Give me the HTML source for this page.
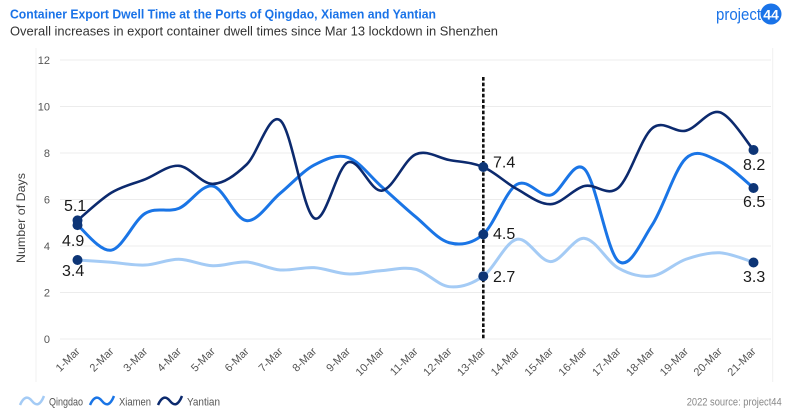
<!DOCTYPE html>
<html>
<head>
<meta charset="utf-8">
<style>
  html,body{margin:0;padding:0;background:#fff;}
  svg{display:block;font-family:"Liberation Sans",Arial,sans-serif;}
</style>
</head>
<body>
<svg id="chart" width="800" height="415" viewBox="0 0 800 415" xmlns="http://www.w3.org/2000/svg">
  <rect x="0" y="0" width="800" height="415" fill="#fff"/>
  <!-- Title -->
  <text x="10" y="18.5" font-size="13" font-weight="bold" fill="#1a73e8" textLength="426" lengthAdjust="spacingAndGlyphs">Container Export Dwell Time at the Ports of Qingdao, Xiamen and Yantian</text>
  <text x="10" y="35.3" font-size="13" fill="#333" textLength="488" lengthAdjust="spacingAndGlyphs">Overall increases in export container dwell times since Mar 13 lockdown in Shenzhen</text>
  <!-- Logo -->
  <text x="716" y="20" font-size="17" fill="#1a73e8" textLength="45" lengthAdjust="spacingAndGlyphs">project</text>
  <circle cx="771" cy="14" r="10.5" fill="#1a73e8"/>
  <text x="771" y="19.5" font-size="14" font-weight="bold" fill="#fff" text-anchor="middle">44</text>

  <!-- frame lines -->
  <line x1="36" y1="48" x2="36" y2="382" stroke="#f0f0f0" stroke-width="1"/>
  <line x1="772.7" y1="48" x2="772.7" y2="382" stroke="#f0f0f0" stroke-width="1"/>

  <!-- grid -->
  <g stroke="#ececec" stroke-width="1">
    <line x1="60" y1="60" x2="771" y2="60"/>
    <line x1="60" y1="106.5" x2="771" y2="106.5"/>
    <line x1="60" y1="153" x2="771" y2="153"/>
    <line x1="60" y1="199.5" x2="771" y2="199.5"/>
    <line x1="60" y1="246" x2="771" y2="246"/>
    <line x1="60" y1="292.5" x2="771" y2="292.5"/>
    <line x1="60" y1="339" x2="771" y2="339"/>
  </g>
  <!-- y tick labels -->
  <g font-size="11" fill="#555" text-anchor="end">
    <text x="50" y="64">12</text>
    <text x="50" y="110.5">10</text>
    <text x="50" y="157">8</text>
    <text x="50" y="203.5">6</text>
    <text x="50" y="250">4</text>
    <text x="50" y="296.5">2</text>
    <text x="50" y="343">0</text>
  </g>
  <text transform="translate(25,218) rotate(-90)" font-size="12" fill="#444" text-anchor="middle" textLength="90" lengthAdjust="spacingAndGlyphs">Number of Days</text>

  <!-- x labels -->
  <g id="xlabels" font-size="11" fill="#555" text-anchor="end"></g>

  <!-- dashed marker -->
  <line x1="483.3" y1="77" x2="483.3" y2="340" stroke="#111" stroke-width="2.6" stroke-dasharray="3.6 2"/>

  <!-- series -->
  <path id="q" fill="none" stroke="#a4cbf5" stroke-width="3" stroke-linejoin="round" stroke-linecap="round"/>
  <path id="x" fill="none" stroke="#1a75e6" stroke-width="3" stroke-linejoin="round" stroke-linecap="round"/>
  <path id="y" fill="none" stroke="#0c2a6e" stroke-width="2.6" stroke-linejoin="round" stroke-linecap="round"/>

  <!-- dots -->
  <g fill="#0d3576">
    <circle cx="77.5" cy="220.4" r="5"/>
    <circle cx="77.5" cy="225.1" r="5"/>
    <circle cx="77.5" cy="260" r="5"/>
    <circle cx="483.3" cy="167" r="5"/>
    <circle cx="483.3" cy="234.4" r="5"/>
    <circle cx="483.3" cy="276.2" r="5"/>
    <circle cx="753.5" cy="150" r="5"/>
    <circle cx="753.5" cy="188" r="5"/>
    <circle cx="753.5" cy="262.5" r="5"/>
  </g>
  <!-- value labels -->
  <g font-size="16" fill="#1a1a1a">
    <text x="64" y="211">5.1</text>
    <text x="62" y="246">4.9</text>
    <text x="62" y="276">3.4</text>
    <text x="493" y="167.5">7.4</text>
    <text x="493" y="239">4.5</text>
    <text x="493" y="282">2.7</text>
    <text x="743" y="170">8.2</text>
    <text x="743" y="207">6.5</text>
    <text x="743" y="282">3.3</text>
  </g>

  <!-- legend -->
  <path d="M20,405 C24,396 28,396 32,401 S40,406 44,396" fill="none" stroke="#a4cbf5" stroke-width="2.5"/>
  <text x="49" y="405.5" font-size="11" fill="#555" textLength="34" lengthAdjust="spacingAndGlyphs">Qingdao</text>
  <path d="M90,405 C94,396 98,396 102,401 S110,406 114,396" fill="none" stroke="#1a75e6" stroke-width="2.5"/>
  <text x="119" y="405.5" font-size="11" fill="#555" textLength="32" lengthAdjust="spacingAndGlyphs">Xiamen</text>
  <path d="M158,405 C162,396 166,396 170,401 S178,406 182,396" fill="none" stroke="#0c2a6e" stroke-width="2.5"/>
  <text x="187" y="405.5" font-size="11" fill="#555" textLength="33" lengthAdjust="spacingAndGlyphs">Yantian</text>

  <text x="781.7" y="405.5" font-size="11" fill="#888" text-anchor="end" textLength="95" lengthAdjust="spacingAndGlyphs">2022 source: project44</text>
</svg>
<script>
(function(){
  var X=function(i){return 77.5+33.8*i;};
  var Y=function(v){return 339-23.25*v;};
  var yant=[5.1,6.29,6.87,7.45,6.67,7.5,9.4,5.2,7.6,6.38,7.94,7.7,7.4,6.45,5.8,6.58,6.5,9.06,8.96,9.75,8.13];
  var xiam=[4.9,3.82,5.4,5.62,6.58,5.09,6.27,7.48,7.81,6.55,5.26,4.14,4.5,6.65,6.19,7.31,3.35,4.9,7.77,7.63,6.5];
  var qing=[3.4,3.3,3.18,3.43,3.15,3.31,2.97,3.07,2.8,2.94,3.0,2.25,2.7,4.29,3.33,4.33,3.05,2.71,3.43,3.71,3.3];
  function path(vals){
    var p=vals.map(function(v,i){return [X(i),Y(v)];});
    var n=p.length, d="M"+p[0][0].toFixed(2)+","+p[0][1].toFixed(2);
    for(var i=0;i<n-1;i++){
      var p0=p[Math.max(i-1,0)],p1=p[i],p2=p[i+1],p3=p[Math.min(i+2,n-1)];
      var c1=[p1[0]+(p2[0]-p0[0])/6,p1[1]+(p2[1]-p0[1])/6];
      var c2=[p2[0]-(p3[0]-p1[0])/6,p2[1]-(p3[1]-p1[1])/6];
      d+=" C"+c1[0].toFixed(2)+","+c1[1].toFixed(2)+" "+c2[0].toFixed(2)+","+c2[1].toFixed(2)+" "+p2[0].toFixed(2)+","+p2[1].toFixed(2);
    }
    return d;
  }
  document.getElementById("q").setAttribute("d",path(qing));
  document.getElementById("x").setAttribute("d",path(xiam));
  document.getElementById("y").setAttribute("d",path(yant));
  var g=document.getElementById("xlabels");
  var ns="http://www.w3.org/2000/svg";
  for(var i=0;i<21;i++){
    var t=document.createElementNS(ns,"text");
    var x=X(i)+3, y=352;
    t.setAttribute("x",x);t.setAttribute("y",y);
    t.setAttribute("transform","rotate(-45 "+x+" "+y+")");
    t.textContent=(i+1)+"-Mar";
    g.appendChild(t);
  }
})();
</script>
</body>
</html>
